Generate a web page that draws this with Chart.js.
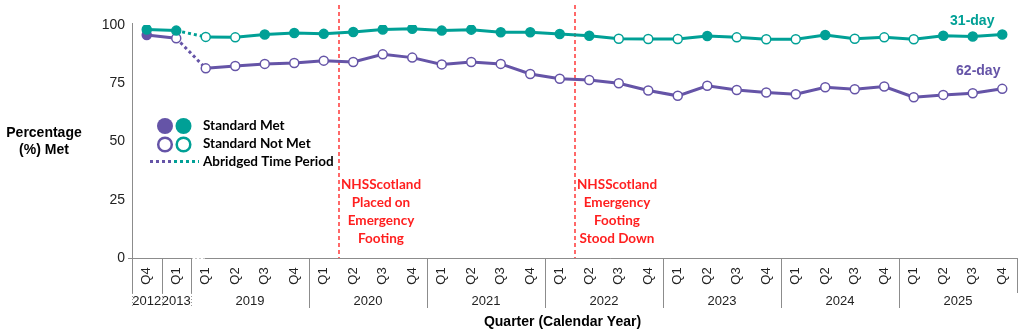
<!DOCTYPE html>
<html>
<head>
<meta charset="utf-8">
<script src="https://cdn.jsdelivr.net/npm/chart.js@4.4.0/dist/chart.umd.min.js"></script>
<style>
  html, body { margin: 0; padding: 0; background: #fff; }
  #wrap { width: 1024px; height: 334px; position: relative; }
</style>
</head>
<body>
<div id="wrap"><canvas id="waitChart"></canvas></div>
<script>
// quarters shown on the axis, grouped by calendar year
const years = ["2012", "2013", "2019", "2020", "2021", "2022", "2023", "2024", "2025"];
const quartersPerYear = [1, 1, 4, 4, 4, 4, 4, 4, 4];
const quarters = [
  "Q4",
  "Q1",
  "Q1", "Q2", "Q3", "Q4",
  "Q1", "Q2", "Q3", "Q4",
  "Q1", "Q2", "Q3", "Q4",
  "Q1", "Q2", "Q3", "Q4",
  "Q1", "Q2", "Q3", "Q4",
  "Q1", "Q2", "Q3", "Q4",
  "Q1", "Q2", "Q3", "Q4",
];

// % of patients seen within the standard
const day31 = [
  98.1, 97.6,
  94.9, 94.7, 95.9, 96.6,
  96.2, 97.0, 98.1, 98.4,
  97.6, 98.0, 96.9, 96.9,
  96.1, 95.4, 94.1, 94.0,
  94.0, 95.3, 94.7, 93.9,
  93.9, 95.7, 94.1, 94.7,
  93.9, 95.4, 95.1, 95.9,
];
const day62 = [
  95.7, 94.3,
  81.4, 82.4, 83.3, 83.7,
  84.7, 84.1, 87.4, 86.0,
  83.1, 84.1, 83.3, 79.0,
  76.9, 76.4, 75.0, 71.9,
  69.6, 73.9, 72.1, 71.0,
  70.3, 73.3, 72.4, 73.6,
  69.0, 70.0, 70.7, 72.6,
];

const yTicks = [0, 25, 50, 75, 100];
const standard = 95;

// events: line drawn between this quarter index and the next
const eventAfter = [6, 14];
const eventText = [
  ["NHSScotland", "Placed on", "Emergency", "Footing"],
  ["NHSScotland", "Emergency", "Footing", "Stood Down"],
];

const teal = "#00a096";
const purple = "#6554a7";
const red = "#ff1f1f";
const axisGrey = "#8c8c8c";
const arial = "'Liberation Sans', Arial, sans-serif";
const calibri = "Lato, 'Noto Sans', sans-serif";

// build labels and group starts
const labels = [];
const groupStart = [];
let k = 0;
years.forEach((y, i) => {
  groupStart.push(k);
  for (let j = 0; j < quartersPerYear[i]; j++) {
    labels.push(y + " " + quarters[k]);
    k++;
  }
});
groupStart.push(k);

// the last quarter before the jump in years (the abridged stretch)
let breakIndex = -1;
for (let i = 0; i < years.length - 1; i++) {
  if (+years[i + 1] - +years[i] > 1) breakIndex = groupStart[i + 1] - 1;
}

const fills = (values, color) => values.map((v) => (v >= standard ? color : "#fff"));

const makeSeries = (label, values, color) => ({
  label: label,
  data: values,
  borderColor: color,
  borderWidth: 3,
  pointRadius: 4.5,
  pointBorderWidth: 1.5,
  pointBorderColor: color,
  pointBackgroundColor: fills(values, color),
  tension: 0,
  segment: {
    borderDash: (ctx) => (ctx.p0DataIndex === breakIndex ? [3, 3] : undefined),
  },
});

const annotations = {
  id: "annotations",
  beforeDatasetsDraw(chart) {
    const { ctx, chartArea } = chart;
    const x = chart.scales.x;
    ctx.save();
    eventAfter.forEach((idx, n) => {
      const px = Math.round(x.getPixelForValue(idx + 0.5));
      ctx.strokeStyle = "#ff2a2a";
      ctx.lineWidth = 1.4;
      ctx.setLineDash([4, 3]);
      ctx.beginPath();
      ctx.moveTo(px, 5);
      ctx.lineTo(px, chartArea.bottom);
      ctx.stroke();
      ctx.setLineDash([]);
      ctx.fillStyle = red;
      ctx.font = "bold 13.5px " + calibri;
      ctx.textAlign = "center";
      ctx.textBaseline = "middle";
      eventText[n].forEach((t, i) => ctx.fillText(t, px + 42, 185 + i * 18));
    });
    ctx.restore();
  },
  afterDraw(chart) {
    const { ctx, chartArea } = chart;
    const x = chart.scales.x;
    const bottom = chartArea.bottom;
    ctx.save();

    // category axis: line, quarter and year rows, separators
    const brk0 = x.getPixelForValue(breakIndex + 0.5);
    const brk1 = x.getPixelForValue(breakIndex + 1) - 1;
    ctx.strokeStyle = axisGrey;
    ctx.lineWidth = 1;
    ctx.beginPath();
    ctx.moveTo(chartArea.left, bottom + 0.5);
    ctx.lineTo(brk0, bottom + 0.5);
    ctx.moveTo(brk1, bottom + 0.5);
    ctx.lineTo(chartArea.right, bottom + 0.5);
    ctx.stroke();
    ctx.setLineDash([2, 2]);
    ctx.strokeStyle = "#c8c8c8";
    ctx.beginPath();
    ctx.moveTo(brk0, bottom + 0.5);
    ctx.lineTo(brk1, bottom + 0.5);
    ctx.stroke();
    ctx.setLineDash([]);

    // y axis line runs down through the quarter row
    ctx.strokeStyle = axisGrey;
    ctx.beginPath();
    ctx.moveTo(chartArea.left + 0.5, chartArea.top - 2);
    ctx.lineTo(chartArea.left + 0.5, bottom + 35);
    ctx.moveTo(chartArea.left - 4, bottom + 0.5);
    ctx.lineTo(chartArea.left, bottom + 0.5);
    ctx.stroke();

    groupStart.forEach((g, i) => {
      const px = Math.round(x.getPixelForValue(g - 0.5)) + 0.5;
      ctx.strokeStyle = axisGrey;
      ctx.setLineDash([]);
      ctx.beginPath();
      ctx.moveTo(px, bottom);
      ctx.lineTo(px, bottom + 35);
      ctx.stroke();
      if (i === groupStart.length - 1) return;
      if (g <= breakIndex + 1) {
        ctx.setLineDash([1, 2]);
        ctx.strokeStyle = "#9a9a9a";
      }
      ctx.beginPath();
      ctx.moveTo(px, bottom + 35);
      ctx.lineTo(px, bottom + 50);
      ctx.stroke();
    });
    ctx.setLineDash([]);

    ctx.fillStyle = "#222";
    ctx.font = "13px " + arial;
    quarters.forEach((q, i) => {
      const px = x.getPixelForValue(i);
      ctx.save();
      ctx.translate(px, bottom + 18);
      ctx.rotate(-Math.PI / 2);
      ctx.textAlign = "center";
      ctx.textBaseline = "middle";
      ctx.fillText(q, 0, 0);
      ctx.restore();
    });
    ctx.textAlign = "center";
    ctx.textBaseline = "middle";
    years.forEach((y, i) => {
      const a = x.getPixelForValue(groupStart[i]);
      const b = x.getPixelForValue(groupStart[i + 1] - 1);
      ctx.fillText(y, (a + b) / 2, bottom + 43);
    });

    // axis titles
    ctx.fillStyle = "#000";
    ctx.font = "bold 14px " + arial;
    ctx.fillText("Quarter (Calendar Year)", (chartArea.left + chartArea.right) / 2 - 12, 322);
    ctx.fillText("Percentage", 44, 133);
    ctx.fillText("(%) Met", 44, 150);

    // series names beside the last quarter
    const m31 = chart.getDatasetMeta(0).data;
    const m62 = chart.getDatasetMeta(1).data;
    const last31 = m31[m31.length - 1];
    const last62 = m62[m62.length - 1];
    ctx.fillStyle = teal;
    ctx.fillText("31-day", last31.x - 30, last31.y - 13);
    ctx.fillStyle = purple;
    ctx.fillText("62-day", last62.x - 24, last62.y - 18);

    // legend
    const dot = (cx, cy, color, filled) => {
      ctx.beginPath();
      if (filled) {
        ctx.arc(cx, cy, 8, 0, Math.PI * 2);
        ctx.fillStyle = color;
        ctx.fill();
      } else {
        ctx.arc(cx, cy, 6.8, 0, Math.PI * 2);
        ctx.lineWidth = 2.5;
        ctx.strokeStyle = color;
        ctx.stroke();
      }
    };
    dot(165, 126, purple, true);
    dot(183.5, 126, teal, true);
    dot(165, 144.5, purple, false);
    dot(183.5, 144.5, teal, false);
    ctx.lineWidth = 3;
    ctx.setLineDash([3, 3]);
    ctx.strokeStyle = purple;
    ctx.beginPath();
    ctx.moveTo(150, 161.5);
    ctx.lineTo(174, 161.5);
    ctx.stroke();
    ctx.strokeStyle = teal;
    ctx.beginPath();
    ctx.moveTo(174, 161.5);
    ctx.lineTo(199, 161.5);
    ctx.stroke();
    ctx.setLineDash([]);
    ctx.fillStyle = "#000";
    ctx.font = "bold 13.5px " + calibri;
    ctx.textAlign = "left";
    ctx.fillText("Standard Met", 203, 126);
    ctx.fillText("Standard Not Met", 203, 143.5);
    ctx.fillText("Abridged Time Period", 203, 161.5);
    ctx.restore();
  },
};

const ctx = document.getElementById("waitChart").getContext("2d");

const waitChart = new Chart(ctx, {
  type: "line",
  data: {
    labels: labels,
    datasets: [
      makeSeries("31-day", day31, teal),
      makeSeries("62-day", day62, purple),
    ],
  },
  options: {
    responsive: true,
    maintainAspectRatio: false,
    animation: false,
    layout: {
      padding: { top: 25, right: 7, bottom: 76, left: 0 },
    },
    scales: {
      x: {
        type: "category",
        display: false,
        offset: true,
      },
      y: {
        min: 0,
        max: 100,
        afterFit: (s) => {
          s.width = 132;
        },
        afterBuildTicks: (s) => {
          s.ticks = yTicks.map((v) => ({ value: v }));
        },
        grid: { display: false, drawTicks: false },
        border: { display: false },
        ticks: {
          padding: 7,
          color: "#222",
          font: { family: arial, size: 14 },
        },
      },
    },
    plugins: {
      legend: { display: false },
      tooltip: { enabled: false },
    },
  },
  plugins: [annotations],
});
</script>
</body>
</html>
